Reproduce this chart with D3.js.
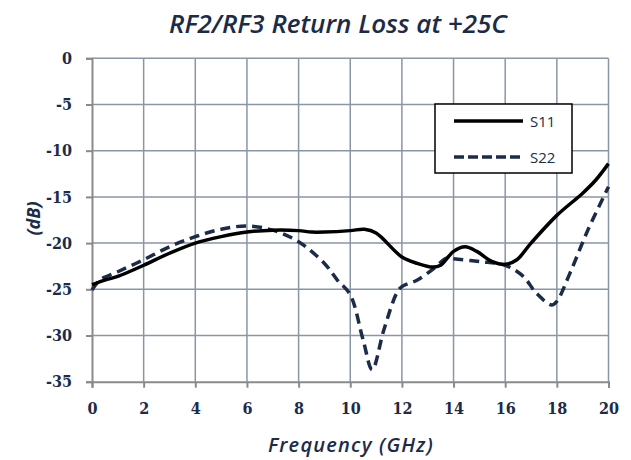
<!DOCTYPE html>
<html>
<head>
<meta charset="utf-8">
<script src="https://cdn.jsdelivr.net/npm/d3@7"></script>
<style>
  html, body { margin: 0; padding: 0; background: #fff; }
  svg { display: block; }
</style>
</head>
<body>
<svg id="chart" width="631" height="460"></svg>
<script>
// Frequency ticks (GHz) and dB ticks
const xTicks = [0, 2, 4, 6, 8, 10, 12, 14, 16, 18, 20];
const yTicks = [0, -5, -10, -15, -20, -25, -30, -35];

// S11 return loss, frequency (GHz) and dB
const s11Freq = [0, 0.5, 1, 2, 3, 4, 5, 6, 7, 8, 8.5, 9, 10, 10.55, 11, 12, 12.6, 13.2, 13.5, 14, 14.45, 14.9, 15.5, 16, 16.45, 17, 18, 19, 19.5, 20];
const s11dB   = [-24.5, -24.0, -23.6, -22.4, -21.1, -20.0, -19.3, -18.8, -18.6, -18.65, -18.8, -18.8, -18.65, -18.5, -18.9, -21.5, -22.2, -22.6, -22.4, -20.9, -20.4, -20.9, -22.0, -22.3, -21.8, -20.0, -17.0, -14.6, -13.2, -11.4];

// S22 return loss, frequency (GHz) and dB
const s22Freq = [0, 0.3, 1, 2, 3, 4, 5, 6, 7, 8, 9, 9.5, 10, 10.5, 10.85, 11.3, 11.8, 12, 12.6, 13.3, 13.7, 14, 15, 16, 16.7, 17.2, 17.8, 18, 18.5, 19.2, 20];
const s22dB   = [-25.1, -24.0, -23.1, -21.8, -20.4, -19.3, -18.5, -18.15, -18.6, -19.85, -22.2, -24.0, -25.6, -30.5, -33.7, -29.4, -25.4, -24.7, -24.0, -22.6, -21.65, -21.7, -22.0, -22.4, -23.6, -25.4, -26.7, -26.3, -23.3, -18.6, -13.9];

const seriesNames = ["S11", "S22"];

const navy = "#1b2b48";
const svg = d3.select("#chart");

const x = d3.scaleLinear().domain([0, 20]).range([92, 608.5]);
const y = d3.scaleLinear().domain([-35, 0]).range([381.7, 58.3]);

// grid
const grid = svg.append("g");
grid.selectAll("line.v").data(xTicks.slice(1)).join("line")
  .attr("x1", d => x(d)).attr("x2", d => x(d))
  .attr("y1", y(0)).attr("y2", y(-35))
  .attr("stroke", "#8a95a6").attr("stroke-width", 1.5);
grid.selectAll("line.h").data(yTicks.slice(0, -1)).join("line")
  .attr("x1", x(0)).attr("x2", x(20))
  .attr("y1", d => y(d)).attr("y2", d => y(d))
  .attr("stroke", "#8a95a6").attr("stroke-width", 1.5);

// axes (plain hyphen for negatives)
const fmt = d => String(d);
const xAxis = svg.append("g").attr("transform", `translate(0,${y(-35)})`)
  .call(d3.axisBottom(x).tickValues(xTicks).tickSize(6).tickPadding(15).tickFormat(fmt));
const yAxis = svg.append("g").attr("transform", `translate(${x(0)},0)`)
  .call(d3.axisLeft(y).tickValues(yTicks).tickSize(6).tickPadding(14).tickFormat(fmt));
[xAxis, yAxis].forEach(a => {
  a.select(".domain").attr("stroke", "#8a8a8a").attr("stroke-width", 2);
  a.selectAll(".tick line").attr("stroke", "#8a8a8a").attr("stroke-width", 2);
  a.selectAll(".tick text")
    .attr("fill", navy)
    .style("font-family", "'DejaVu Serif Condensed', 'DejaVu Serif', serif")
    .style("font-stretch", "condensed")
    .style("font-weight", "bold")
    .style("font-size", "16px");
});

// curves
const line = d3.line().x(d => x(d[0])).y(d => y(d[1])).curve(d3.curveCatmullRom.alpha(0.5));
svg.append("path").datum(d3.zip(s22Freq, s22dB))
  .attr("d", line).attr("fill", "none")
  .attr("stroke", navy).attr("stroke-width", 3.5).attr("stroke-dasharray", "10,6");
svg.append("path").datum(d3.zip(s11Freq, s11dB))
  .attr("d", line).attr("fill", "none")
  .attr("stroke", "#000").attr("stroke-width", 3.5);

// legend
const lg = svg.append("g");
lg.append("rect").attr("x", 435).attr("y", 104).attr("width", 137).attr("height", 69)
  .attr("fill", "#fff").attr("stroke", "#000").attr("stroke-width", 1.5);
const legendRows = [
  { name: seriesNames[0], y: 121, color: "#000", dash: null },
  { name: seriesNames[1], y: 157, color: navy, dash: "10,4" }
];
legendRows.forEach(r => {
  lg.append("line").attr("x1", 454).attr("x2", 523).attr("y1", r.y).attr("y2", r.y)
    .attr("stroke", r.color).attr("stroke-width", 3.5)
    .attr("stroke-dasharray", r.dash);
  lg.append("text").attr("x", 530).attr("y", r.y + 6).text(r.name)
    .attr("fill", navy).style("font-family", "'Open Sans', sans-serif").style("font-size", "15px");
});

// titles
svg.append("text").attr("x", 338).attr("y", 33).attr("text-anchor", "middle")
  .text("RF2/RF3 Return Loss at +25C")
  .attr("fill", navy).style("font-family", "'Open Sans', sans-serif")
  .style("font-style", "italic").style("font-weight", "600").style("font-size", "26px");
svg.append("text").attr("x", 351).attr("y", 452).attr("text-anchor", "middle")
  .text("Frequency (GHz)")
  .attr("fill", navy).style("font-family", "'Open Sans', sans-serif")
  .style("font-style", "italic").style("font-weight", "600")
  .style("font-size", "20px").style("letter-spacing", "1.2px");
svg.append("text").attr("transform", "translate(40,218.5) rotate(-90)").attr("text-anchor", "middle")
  .text("(dB)")
  .attr("fill", navy).style("font-family", "'Open Sans', sans-serif")
  .style("font-style", "italic").style("font-weight", "bold").style("font-size", "18px");
</script>
</body>
</html>
